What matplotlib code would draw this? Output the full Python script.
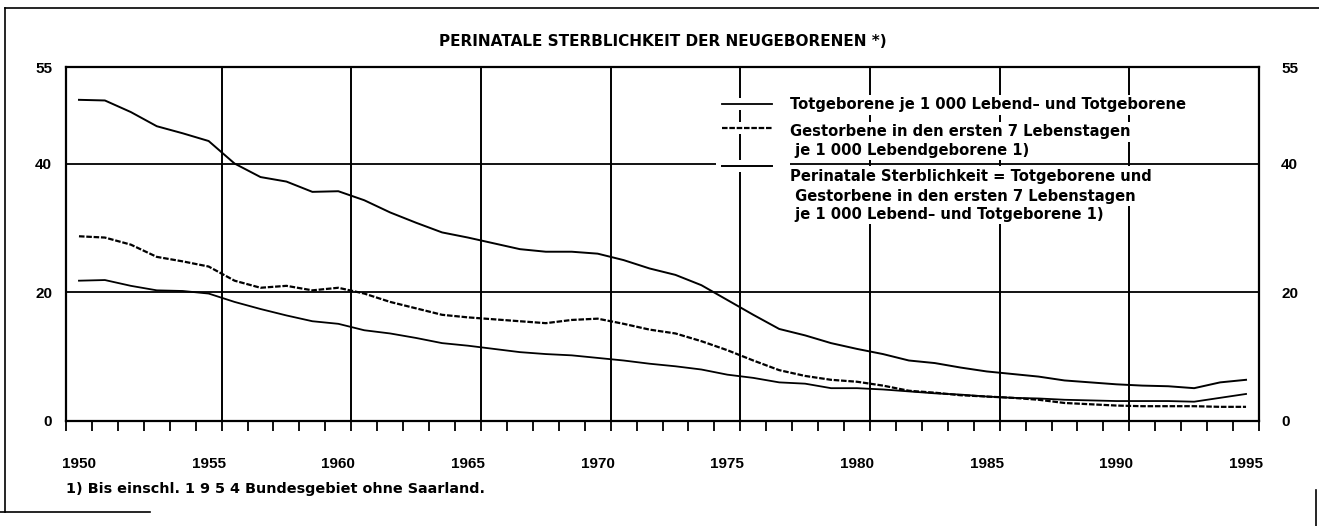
import matplotlib
matplotlib.use("Agg")
import matplotlib.pyplot as plt
import numpy as np
from matplotlib.lines import Line2D
from matplotlib.patches import Rectangle

# ---------------- data ----------------
years = list(range(1950, 1996))

perinatal = [49.9, 49.8, 48.0, 45.8, 44.7, 43.5, 40.0, 37.9, 37.2, 35.6,
             35.7, 34.3, 32.4, 30.8, 29.3, 28.5, 27.6, 26.7, 26.3, 26.3,
             26.0, 25.0, 23.7, 22.7, 21.1, 18.8, 16.5, 14.3, 13.3, 12.1,
             11.2, 10.4, 9.4, 9.0, 8.3, 7.7, 7.3, 6.9, 6.3, 6.0,
             5.7, 5.5, 5.4, 5.1, 6.0, 6.4]

early_neonatal = [28.7, 28.5, 27.4, 25.5, 24.8, 24.0, 21.8, 20.7, 21.0, 20.3,
                  20.7, 19.8, 18.5, 17.5, 16.5, 16.1, 15.8, 15.5, 15.2, 15.7,
                  15.9, 15.1, 14.2, 13.6, 12.4, 11.0, 9.4, 7.9, 7.0, 6.4,
                  6.1, 5.5, 4.7, 4.4, 4.0, 3.8, 3.6, 3.3, 2.8, 2.6,
                  2.4, 2.3, 2.3, 2.3, 2.2, 2.2]

stillbirths = [21.8, 21.9, 21.0, 20.3, 20.2, 19.8, 18.5, 17.4, 16.4, 15.5,
               15.1, 14.1, 13.6, 12.9, 12.1, 11.7, 11.2, 10.7, 10.4, 10.2,
               9.8, 9.4, 8.9, 8.5, 8.0, 7.2, 6.7, 6.0, 5.8, 5.1,
               5.1, 4.9, 4.6, 4.3, 4.1, 3.8, 3.6, 3.5, 3.3, 3.2,
               3.1, 3.1, 3.1, 3.0, 3.6, 4.2]

year_labels = ["1950", "1955", "1960", "1965", "1970", "1975", "1980", "1985", "1990", "1995"]
y_ticks = [0, 20, 40, 55]
y_ticklabels = ["0", "20", "40", "55"]

title = "PERINATALE STERBLICHKEIT DER NEUGEBORENEN *)"
legend_entries = [
    ["Totgeborene je 1 000 Lebend\u2013 und Totgeborene"],
    ["Gestorbene in den ersten 7 Lebenstagen", " je 1 000 Lebendgeborene 1)"],
    ["Perinatale Sterblichkeit = Totgeborene und", " Gestorbene in den ersten 7 Lebenstagen",
     " je 1 000 Lebend\u2013 und Totgeborene 1)"],
]
footnote = "1) Bis einschl. 1 9 5 4 Bundesgebiet ohne Saarland."

# ---------------- figure ----------------
W, H = 1319, 526
fig = plt.figure(figsize=(W / 100, H / 100), dpi=100)
fig.patch.set_facecolor("white")


def fx(px):
    return px / W


def fy(py):
    return 1 - py / H


L, R, T, B = 66, 1259, 67, 421
ax = fig.add_axes([fx(L), fy(B), fx(R) - fx(L), fy(T) - fy(B)])

xs = np.array(years) + 0.5
ax.plot(xs, perinatal, color="black", lw=1.4, zorder=2, solid_joinstyle="round")
ax.plot(xs, early_neonatal, color="black", lw=1.6, ls=(0, (2.5, 0.8)), zorder=2)
ax.plot(xs, stillbirths, color="black", lw=1.3, zorder=2)

ax.set_xlim(1950, 1996)
ax.set_ylim(0, 55)

for s in ax.spines.values():
    s.set_linewidth(1.6)

# grid lines
for g in range(1956, 1992, 5):
    ax.axvline(g, color="black", lw=1.4, zorder=1)
for g in (20, 40):
    ax.axhline(g, color="black", lw=1.3, zorder=1)

num_font = ["Liberation Sans Narrow", "Liberation Sans", "DejaVu Sans"]
txt_font = ["DejaVu Sans"]

ax.set_xticks(np.arange(1950, 1997), minor=True)
ax.set_xticks(np.arange(1950.5, 1996, 5))
ax.set_xticklabels(year_labels, fontsize=11, fontweight="bold", family=num_font)
ax.tick_params(axis="x", which="major", length=0, pad=26)
ax.tick_params(axis="x", which="minor", length=7.5, width=1.3, direction="out")

ax.set_yticks(y_ticks)
ax.set_yticklabels(y_ticklabels, fontsize=11, fontweight="bold", family=num_font)
ax.tick_params(axis="y", length=0, pad=10)

ax2 = ax.twinx()
ax2.set_ylim(0, 55)
ax2.set_yticks(y_ticks)
ax2.set_yticklabels(y_ticklabels, fontsize=11, fontweight="bold", family=num_font)
ax2.tick_params(axis="y", length=0, pad=16)
for s in ax2.spines.values():
    s.set_visible(False)

# title
fig.text(fx((L + R) / 2), fy(42), title, ha="center", va="center",
         fontsize=11, fontweight="bold", family=txt_font)

# legend (manual)
handle_y = [104, 128, 166]
row_y = [[105], [132, 150], [176, 196, 214]]
styles = [dict(lw=1.3, ls="-"), dict(lw=1.6, ls=(0, (2.5, 0.8))), dict(lw=1.4, ls="-")]
for hy, rows, labels, st in zip(handle_y, row_y, legend_entries, styles):
    fig.add_artist(Rectangle((fx(716), fy(hy + 6)), fx(790) - fx(716), 12 / H,
                             transform=fig.transFigure, facecolor="white",
                             edgecolor="none", zorder=3))
    fig.add_artist(Line2D([fx(722), fx(772)], [fy(hy), fy(hy)], transform=fig.transFigure,
                          color="black", zorder=4, **st))
    for ry, lab in zip(rows, labels):
        fig.text(fx(790), fy(ry), lab, ha="left", va="center", fontsize=10.6,
                 fontweight="bold", family=txt_font, zorder=4,
                 bbox=dict(facecolor="white", edgecolor="none", pad=1.5))

# footnote
fig.text(fx(66), fy(489), footnote, ha="left", va="center", fontsize=10.4,
         fontweight="bold", family=txt_font)

# outer frame
frame = dict(transform=fig.transFigure, color="black", lw=1.2)
fig.add_artist(Line2D([fx(5), fx(1319)], [fy(8), fy(8)], **frame))
fig.add_artist(Line2D([fx(5), fx(5)], [fy(8), fy(512)], **frame))
fig.add_artist(Line2D([fx(0), fx(150)], [fy(512), fy(512)], **frame))
fig.add_artist(Line2D([fx(1316), fx(1316)], [fy(490), fy(526)], **frame))

fig.savefig("out.png", dpi=100, facecolor="white")
